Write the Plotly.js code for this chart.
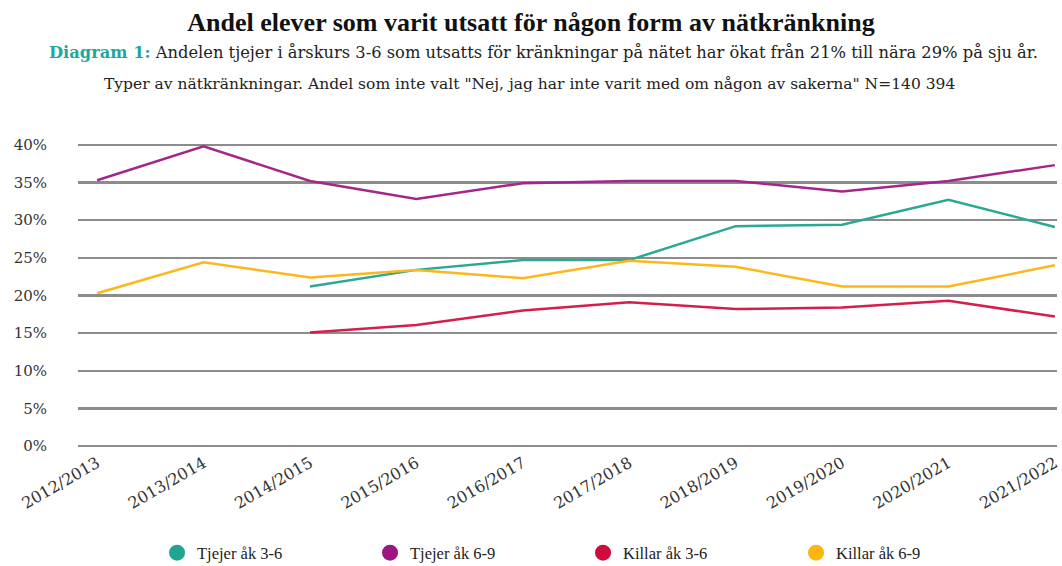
<!DOCTYPE html>
<html>
<head>
<meta charset="utf-8">
<script src="https://cdn.plot.ly/plotly-3.0.1.min.js"></script>
<style>
  body { margin: 0; background: #fff; }
  #chart { width: 1062px; height: 566px; }
</style>
</head>
<body>
<div id="chart"></div>
<script>
// school years on the x axis
var years = ["2012/2013", "2013/2014", "2014/2015", "2015/2016", "2016/2017",
             "2017/2018", "2018/2019", "2019/2020", "2020/2021", "2021/2022"];
// share (%) per group; null = no data that year
var tjejer36 = [null, null, 21.2, 23.4, 24.7, 24.7, 29.2, 29.4, 32.7, 29.1];
var tjejer69 = [35.3, 39.8, 35.2, 32.8, 34.9, 35.2, 35.2, 33.8, 35.2, 37.3];
var killar36 = [null, null, 15.1, 16.1, 18.0, 19.1, 18.2, 18.4, 19.3, 17.2];
var killar69 = [20.3, 24.4, 22.4, 23.4, 22.3, 24.6, 23.8, 21.2, 21.2, 24.0];
var yTicks = [0, 5, 10, 15, 20, 25, 30, 35, 40];

var names = ["Tjejer åk 3-6", "Tjejer åk 6-9", "Killar åk 3-6", "Killar åk 6-9"];
var series = [tjejer36, tjejer69, killar36, killar69];
var lineColors = ["#2aa893", "#a3278b", "#d51f4b", "#fbb81c"];
var dotColors = ["#20a68f", "#9c1580", "#d00c3c", "#fdb60f"];

var serif = "'Liberation Serif', serif";
var wide = "'DejaVu Serif', serif";
var data = [];

// the lines themselves
series.forEach(function (s, i) {
  data.push({
    x: years, y: s, type: 'scatter', mode: 'lines',
    line: {color: lineColors[i], width: 2.5},
    showlegend: false, hoverinfo: 'skip'
  });
});
// legend entries drawn as round dots
names.forEach(function (n, i) {
  data.push({
    x: [null], y: [null], type: 'scatter', mode: 'markers', name: n,
    marker: {color: dotColors[i], size: 20, symbol: 'circle'}
  });
});

var layout = {
  width: 1062, height: 566,
  margin: {l: 78, r: 5, t: 141, b: 116},
  paper_bgcolor: '#fff', plot_bgcolor: '#fff',
  font: {family: serif, color: '#222', size: 15},
  title: {
    text: '<b>Andel elever som varit utsatt för någon form av nätkränkning</b>',
    font: {family: serif, size: 26, color: '#111'},
    x: 0.5, xanchor: 'center', y: 0.962, yanchor: 'middle'
  },
  annotations: [
    {text: '<b><span style="color:#1fa79a">Diagram 1:</span></b> Andelen tjejer i årskurs 3-6 som utsatts för kränkningar på nätet har ökat från 21% till nära 29% på sju år.',
     xref: 'paper', yref: 'paper', x: 0.475, y: 1.288, xanchor: 'center', yanchor: 'middle',
     showarrow: false, font: {family: wide, size: 16.3, color: '#222'}},
    {text: 'Typer av nätkränkningar. Andel som inte valt "Nej, jag har inte varit med om någon av sakerna" N=140 394',
     xref: 'paper', yref: 'paper', x: 0.461, y: 1.184, xanchor: 'center', yanchor: 'middle',
     showarrow: false, font: {family: wide, size: 15.5, color: '#222'}}
  ],
  xaxis: {
    type: 'category', categoryarray: years, range: [-0.18, 9.02],
    showgrid: false, zeroline: false, showline: false,
    tickangle: -30, ticks: '', ticklen: 0,
    tickfont: {family: wide, size: 16, color: '#333'}
  },
  yaxis: {
    range: [-0.5, 40.5], tickvals: yTicks,
    ticktext: yTicks.map(function (v) { return v + '%'; }),
    showgrid: true, gridcolor: '#8c8c8c', gridwidth: 2.5,
    zeroline: false, showline: false, ticks: '', ticklabelstandoff: 30,
    tickfont: {family: wide, size: 15, color: '#333'}
  },
  legend: {
    orientation: 'h', x: 0.549, xanchor: 'center', xref: 'container',
    y: 0.023, yanchor: 'middle', yref: 'container',
    entrywidth: 168, font: {family: serif, size: 16.5, color: '#222'},
    itemsizing: 'trace'
  }
};

Plotly.newPlot('chart', data, layout, {displayModeBar: false, staticPlot: true});
</script>
</body>
</html>
